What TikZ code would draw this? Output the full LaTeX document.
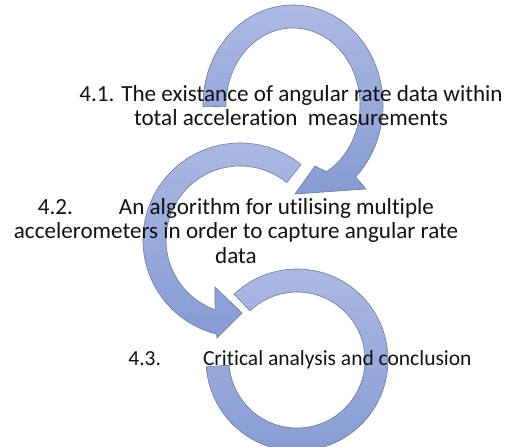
\documentclass[tikz,border=0pt]{standalone}
\usepackage{fontspec}
\setmainfont{Carlito}[Ligatures={NoCommon,NoContextual}]
\usetikzlibrary{calc}
\definecolor{arrowtop}{RGB}{172,186,228}
\definecolor{arrowbot}{RGB}{134,154,212}
\definecolor{arrowline}{RGB}{112,122,150}
\definecolor{inktext}{RGB}{18,18,18}
\tikzset{
  ringarrow/.style={top color=arrowtop, bottom color=arrowbot, draw=arrowline, line width=0.6pt, line join=miter},
  lbl/.style={text=inktext, font=\fontsize{23.1}{24.5}\selectfont, align=center, inner sep=0pt}
}
\begin{document}
\begin{tikzpicture}[x=1pt,y=-1pt]
\useasboundingbox (0,0) rectangle (510,446);
\clip (0,0) rectangle (510,446);
% ring centres (screen coordinates, y grows downwards)
\coordinate (c1) at (293,105);
\coordinate (c2) at (240,240);
\coordinate (c3) at (297,360);
% first arrow: clockwise, head at the bottom
\path[ringarrow] ($(c1)+(179:90 and 100)$)
  arc[start angle=179, end angle=406, x radius=90, y radius=100]
  -- (366,189) -- (295,194) -- (315,166)
  -- ($(c1)+(420:67 and 77)$)
  arc[start angle=420, end angle=179, x radius=67, y radius=77] -- cycle;
% second arrow: anticlockwise, head at the bottom
\path[ringarrow] ($(c2)+(309:97)$)
  arc[start angle=309, end angle=104, radius=97]
  -- (217,338) -- (242,313) -- (215,287)
  -- ($(c2)+(109.7:74)$)
  arc[start angle=109.7, end angle=309, radius=74] -- cycle;
% third arrow: clockwise ring without a head
\path[ringarrow] ($(c3)+(226.3:91)$)
  arc[start angle=226.3, end angle=535.7, radius=91]
  -- ($(c3)+(535.7:68)$)
  arc[start angle=535.7, end angle=226.3, radius=68] -- cycle;
% labels (anchored on the baseline of their last line)
\node[lbl, anchor=base] (t1) at (291,126) {4.1. The existance of angular rate data within\\total acceleration~ measurements};
\node[lbl, anchor=base] (t2) at (236,263) {4.2.\hspace{46pt}An algorithm for utilising multiple\\accelerometers in order to capture angular rate\\data};
\node[lbl, anchor=base, font=\fontsize{21.5}{24}\selectfont] (t3) at (300,365) {4.3.\hspace{42pt}Critical analysis and conclusion};
\end{tikzpicture}
\end{document}
